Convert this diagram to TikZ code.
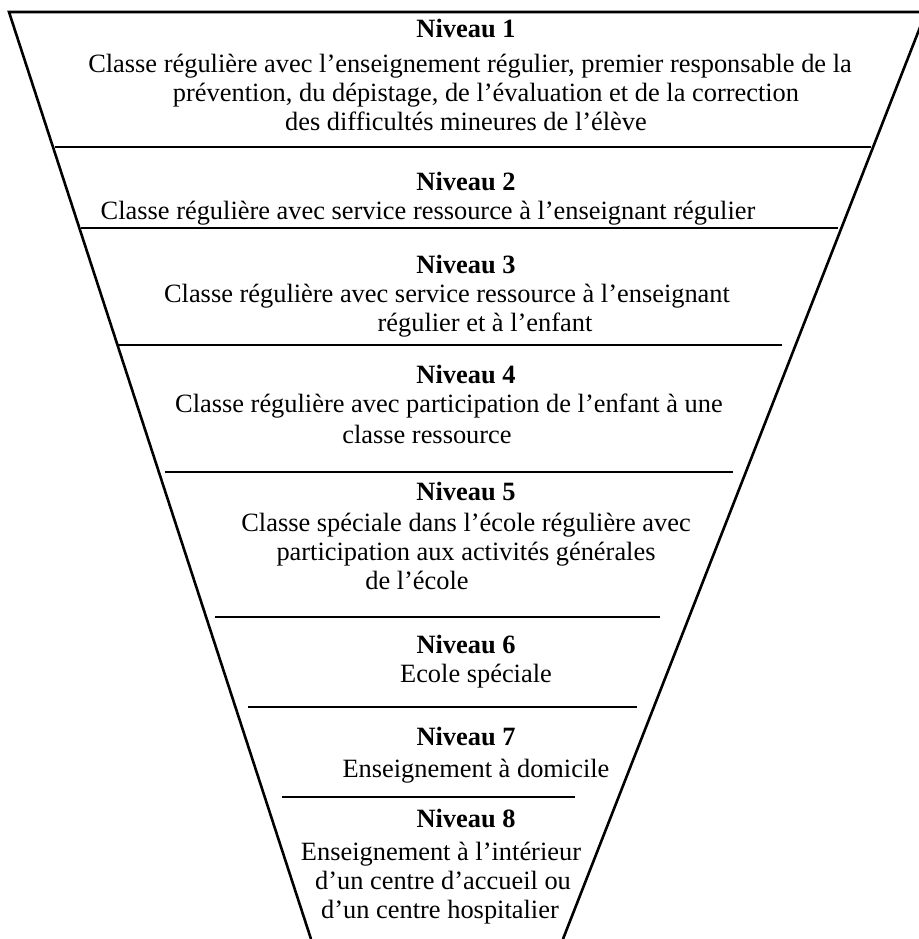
\documentclass[tikz,border=0pt]{standalone}
\usepackage{fontspec}
\setmainfont{Liberation Serif}
\usetikzlibrary{positioning}

\begin{document}
\begin{tikzpicture}[
    x=0.5pt, y=-0.5pt,
    every node/.style={inner sep=0pt, align=center, anchor=north, font=\fontsize{13.2}{14.4}\selectfont},
    trait/.style={draw=black, line width=1.3pt}
]
\useasboundingbox (0,0) rectangle (919,939);
\clip (0,0) rectangle (919,939);

% Entonnoir
\draw[trait] (311,939) -- (9,12) -- (926,12) -- (563,939);

% Separations
\draw[trait] (55,147) -- (871,147);
\draw[trait] (81,228) -- (838,228);
\draw[trait] (117,345) -- (782,345);
\draw[trait] (165,472) -- (733,472);
\draw[trait] (215,617) -- (660,617);
\draw[trait] (248,707) -- (637,707);
\draw[trait] (282,797) -- (575,797);

% Niveaux
\node (niv1) at (466,19) {\textbf{Niveau 1}\\[3pt]
    \hspace*{4pt}Classe régulière avec l’enseignement régulier, premier responsable de la\\
    \hspace*{20pt}prévention, du dépistage, de l’évaluation et de la correction\\
    des difficultés mineures de l’élève};
\node (niv2) at (466,172) {\textbf{Niveau 2}\\
    \hspace*{-38pt}Classe régulière avec service ressource à l’enseignant régulier};
\node (niv3) at (466,255) {\textbf{Niveau 3}\\
    \hspace*{-19pt}Classe régulière avec service ressource à l’enseignant\\
    \hspace*{19pt}régulier et à l’enfant};
\node (niv4) at (466,365) {\textbf{Niveau 4}\\
    \hspace*{-17pt}Classe régulière avec participation de l’enfant à une\\[1pt]
    \hspace*{-39pt}classe ressource};
\node (niv5) at (466,482) {\textbf{Niveau 5}\\[1pt]
    Classe spéciale dans l’école régulière avec\\
    participation aux activités générales\\
    \hspace*{-49pt}de l’école};
\node (niv6) at (466,635) {\textbf{Niveau 6}\\
    \hspace*{10pt}Ecole spéciale};
\node (niv7) at (466,727) {\textbf{Niveau 7}\\[1.5pt]
    \hspace*{10pt}Enseignement à domicile};
\node (niv8) at (466,809) {\textbf{Niveau 8}\\[2pt]
    \hspace*{-25pt}Enseignement à l’intérieur\\
    \hspace*{-23pt}d’un centre d’accueil ou\\
    \hspace*{-26pt}d’un centre hospitalier};

\end{tikzpicture}
\end{document}
